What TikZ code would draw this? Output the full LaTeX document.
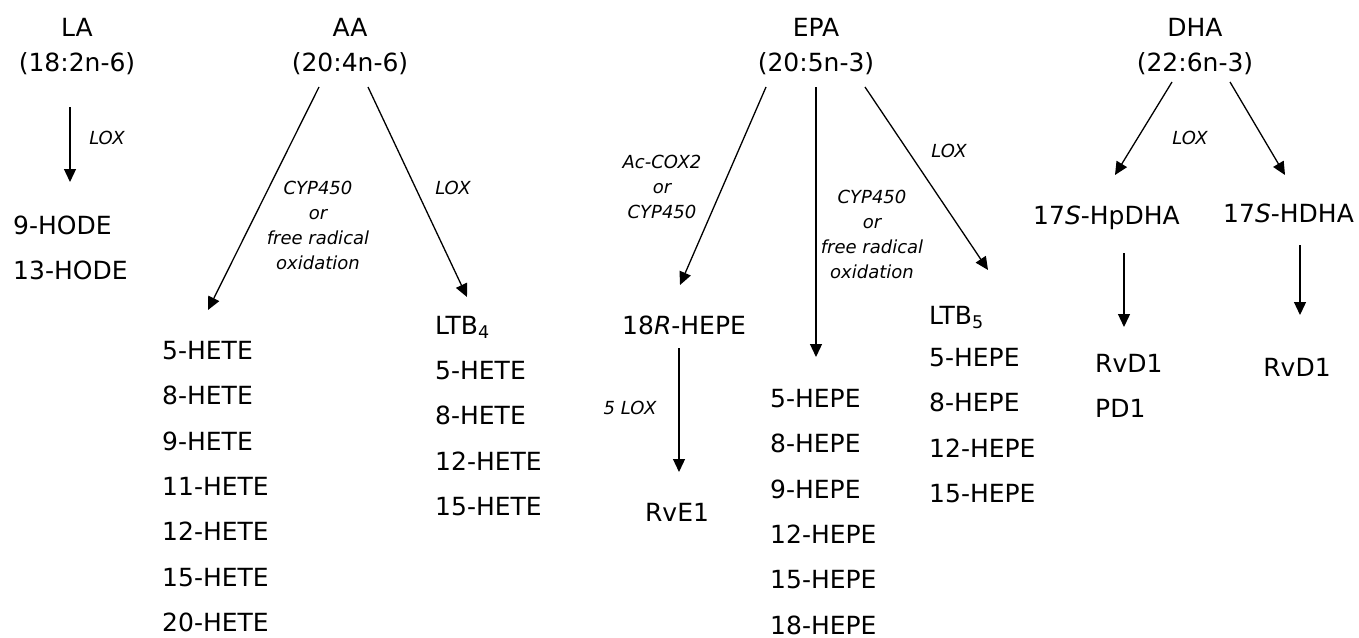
\documentclass[tikz,border=0pt]{standalone}
\usepackage{fontspec}
\setmainfont{DejaVu Sans}
\usetikzlibrary{arrows.meta,positioning}
\tikzset{
  acid/.style={
    font=\fontsize{25}{35}\selectfont,
    align=center,
    inner sep=0pt,
    },
  metab/.style={
    font=\fontsize{25}{30}\selectfont,
    inner sep=0pt,
    anchor=base west,
    },
  item/.style={
    font=\fontsize{25}{30}\selectfont,
    inner sep=0pt,
    anchor=north west,
    },
  enzyme/.style={
    font=\fontsize{18}{25}\selectfont\itshape,
    align=center,
    inner sep=0pt,
    },
  arr/.style={
    -{Triangle[length=13pt,width=12pt]},
    line width=1.3pt,
    },
  }

\begin{document}
\begin{tikzpicture}[x=1pt,y=1pt]
  \useasboundingbox (0,0) rectangle (1359,-637);

  % fatty acids
  \node[acid] (la)  at (77,-47)   {LA\\(18:2n-6)};
  \node[acid] (aa)  at (350,-47)  {AA\\(20:4n-6)};
  \node[acid] (epa) at (816,-47)  {EPA\\(20:5n-3)};
  \node[acid] (dha) at (1195,-47) {DHA\\(22:6n-3)};

  % LA
  \node[metab] (hode9) at (13,-234) {9-HODE};
  \node[below=26.8pt of hode9.base west, item] (hode13) {13-HODE};

  % AA, CYP450 branch
  \node[metab] (hete5) at (162,-359) {5-HETE};
  \node[below=26.8pt of hete5.base west, item] (hete8)  {8-HETE};
  \node[below=26.8pt of hete8.base west, item] (hete9)  {9-HETE};
  \node[below=26.8pt of hete9.base west, item] (hete11) {11-HETE};
  \node[below=26.8pt of hete11.base west, item] (hete12) {12-HETE};
  \node[below=26.8pt of hete12.base west, item] (hete15) {15-HETE};
  \node[below=26.8pt of hete15.base west, item] (hete20) {20-HETE};

  % AA, LOX branch
  \node[metab] (ltbfour) at (435,-334) {LTB\textsubscript{4}};
  \node[below=26.8pt of ltbfour.base west, item] (lhete5)  {5-HETE};
  \node[below=26.8pt of lhete5.base west, item]  (lhete8)  {8-HETE};
  \node[below=26.8pt of lhete8.base west, item]  (lhete12) {12-HETE};
  \node[below=26.8pt of lhete12.base west, item] (lhete15) {15-HETE};

  % EPA
  \node[metab] (rhepe) at (622,-334) {18\textit{R}-HEPE};
  \node[metab, anchor=base] (rve1) at (677,-521) {RvE1};

  \node[metab] (hepe5) at (770,-407) {5-HEPE};
  \node[below=26.8pt of hepe5.base west, item]  (hepe8)  {8-HEPE};
  \node[below=26.8pt of hepe8.base west, item]  (hepe9)  {9-HEPE};
  \node[below=26.8pt of hepe9.base west, item]  (hepe12) {12-HEPE};
  \node[below=26.8pt of hepe12.base west, item] (hepe15) {15-HEPE};
  \node[below=26.8pt of hepe15.base west, item] (hepe18) {18-HEPE};

  \node[metab] (ltbfive) at (929,-324) {LTB\textsubscript{5}};
  \node[below=23.8pt of ltbfive.base west, item] (lhepe5)  {5-HEPE};
  \node[below=26.8pt of lhepe5.base west, item]  (lhepe8)  {8-HEPE};
  \node[below=26.8pt of lhepe8.base west, item]  (lhepe12) {12-HEPE};
  \node[below=26.8pt of lhepe12.base west, item] (lhepe15) {15-HEPE};

  % DHA
  \node[metab] (hpdha) at (1033,-224) {17\textit{S}-HpDHA};
  \node[metab] (hdha)  at (1223,-222) {17\textit{S}-HDHA};
  \node[metab] (rvdone) at (1095,-372) {RvD1};
  \node[below=26.8pt of rvdone.base west, item] (pdone) {PD1};
  \node[metab, anchor=base] (rvdtwo) at (1297,-376) {RvD1};

  % arrow ends
  \coordinate (la-s)   at (70,-107);   \coordinate (la-t)   at (70,-182);
  \coordinate (aa-s1)  at (319,-87);   \coordinate (aa-t1)  at (208,-310);
  \coordinate (aa-s2)  at (368,-87);   \coordinate (aa-t2)  at (467,-297);
  \coordinate (epa-s1) at (766,-87);   \coordinate (epa-t1) at (680,-285);
  \coordinate (epa-s2) at (816,-87);   \coordinate (epa-t2) at (816,-357);
  \coordinate (epa-s3) at (865,-87);   \coordinate (epa-t3) at (988,-270);
  \coordinate (rh-s)   at (679,-348);  \coordinate (rh-t)   at (679,-472);
  \coordinate (dha-s1) at (1172,-82);  \coordinate (dha-t1) at (1115,-175);
  \coordinate (dha-s2) at (1230,-82);  \coordinate (dha-t2) at (1285,-175);
  \coordinate (hp-s)   at (1124,-253); \coordinate (hp-t)   at (1124,-327);
  \coordinate (hd-s)   at (1300,-245); \coordinate (hd-t)   at (1300,-315);

  \draw[arr] (la-s) -- (la-t);
  \draw[arr] (aa-s1) -- (aa-t1);
  \draw[arr] (aa-s2) -- (aa-t2);
  \draw[arr] (epa-s1) -- (epa-t1);
  \draw[arr] (epa-s2) -- (epa-t2);
  \draw[arr] (epa-s3) -- (epa-t3);
  \draw[arr] (rh-s) -- (rh-t);
  \draw[arr] (dha-s1) -- (dha-t1);
  \draw[arr] (dha-s2) -- (dha-t2);
  \draw[arr] (hp-s) -- (hp-t);
  \draw[arr] (hd-s) -- (hd-t);

  % enzymes
  \node[enzyme] (lox1) at (107,-138) {LOX};
  \node[enzyme] (cyp1) at (318,-225) {CYP450\\or\\free radical\\oxidation};
  \node[enzyme] (lox2) at (453,-188) {LOX};
  \node[enzyme] (acox) at (662,-187) {Ac-COX2\\or\\CYP450};
  \node[enzyme] (cyp2) at (872,-234) {CYP450\\or\\free radical\\oxidation};
  \node[enzyme] (lox3) at (949,-151) {LOX};
  \node[enzyme] (lox5) at (630,-408) {5 LOX};
  \node[enzyme] (lox4) at (1190,-138) {LOX};
\end{tikzpicture}
\end{document}
